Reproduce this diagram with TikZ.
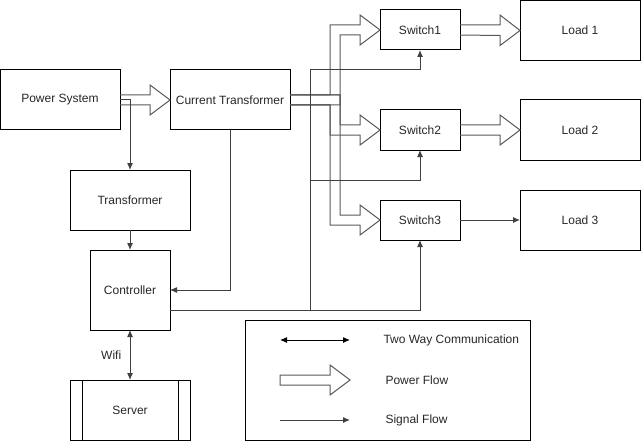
\documentclass[tikz,border=0pt]{standalone}
\usepackage{fontspec}
\setmainfont{Liberation Sans}
\usepackage{tikz}
\usetikzlibrary{calc,arrows.meta}
\tikzstyle{every picture}=[->,>={Latex[length=7pt,width=6pt]},line width=1pt]
\tikzstyle{every node}=[font=\fontsize{12}{14}\selectfont, text=black!85]
\tikzstyle{block}=[draw, rectangle, minimum width=120pt, minimum height=60pt, inner sep=0pt, outer sep=0pt]
\tikzstyle{swbox}=[block, minimum width=80pt, minimum height=40pt]
\tikzstyle{pflow}=[-, draw=black!65, line join=miter]
\tikzstyle{sig}=[->, draw=black!75]

\begin{document}
\begin{tikzpicture}[x=1pt,y=-1pt]
\useasboundingbox (0,0) rectangle (642,441);
 % blocks
 \node[block] (ps) at (60,100) {Power System};
 \node[block] (ct) at (230,100) {Current Transformer};
 \node[block] (tr) at (130,200) {Transformer};
 \node[block, minimum width=80pt, minimum height=80pt] (ctrl) at (130,290) {Controller};
 \node[block] (srv) at (130,410) {Server};
 \draw[-] ($(srv.north west)+(12,0)$) -- ($(srv.south west)+(12,0)$);
 \draw[-] ($(srv.north east)+(-12,0)$) -- ($(srv.south east)+(-12,0)$);
 \node[swbox] (sw1) at (420,30) {Switch1};
 \node[swbox] (sw2) at (420,130) {Switch2};
 \node[swbox] (sw3) at (420,220) {Switch3};
 \node[block] (ld1) at (580,30.5) {Load 1};
 \node[block] (ld2) at (580,130) {Load 2};
 \node[block] (ld3) at (580,220) {Load 3};

 % power flow (hollow arrows)
 \draw[pflow] ($(ps.east)+(0,-5)$) -- ++(30,0) -- ++(0,-10) -- (ct.west) -- ++(-20,15) -- ++(0,-10) -- ($(ps.east)+(0,5)$);
 \draw[pflow] ($(ct.east)+(0,-5)$) -| ($(sw1.west)+(-50,-5)$) -- ++(30,0) -- ++(0,-10) -- (sw1.west) -- ++(-20,15) -- ++(0,-10) -| ($(ct.east)+(50,5)$) -- ($(ct.east)+(0,5)$);
 \draw[pflow] ($(ct.east)+(0,-5)$) -| ($(sw2.west)+(-40,-5)$) -- ++(20,0) -- ++(0,-10) -- (sw2.west) -- ++(-20,15) -- ++(0,-10) -| ($(ct.east)+(40,5)$) -- ($(ct.east)+(0,5)$);
 \draw[pflow] ($(ct.east)+(0,-5)$) -| ($(sw3.west)+(-40,-5)$) -- ++(20,0) -- ++(0,-10) -- (sw3.west) -- ++(-20,15) -- ++(0,-10) -| ($(ct.east)+(40,5)$) -- ($(ct.east)+(0,5)$);
 \draw[pflow] ($(sw1.east)+(0,-5)$) -- ++(40,0) -- ++(0,-10) -- (ld1.west) -- ++(-20,15) -- ++(0,-10) -- ($(sw1.east)+(0,5)$);
 \draw[pflow] ($(sw2.east)+(0,-5)$) -- ++(40,0) -- ++(0,-10) -- (ld2.west) -- ++(-20,15) -- ++(0,-10) -- ($(sw2.east)+(0,5)$);

 % signals
 \draw[sig] (ps.east) -| (tr.north);
 \draw[sig] (tr.south) -- (ctrl.north);
 \draw[sig] (ct.south) |- (ctrl.east);
 \draw[sig] ($(ctrl.east)+(0,20)$) -| (sw3.south);
 \draw[sig] ($(ctrl.east)+(0,20)$) -- ++(140,0) |- ($(sw2.south)+(0,30)$) -- (sw2.south);
 \draw[sig] ($(ctrl.east)+(0,20)$) -- ++(140,0) |- ($(sw1.south)+(0,20)$) -- (sw1.south);
 \draw[sig] (sw3.east) -- (ld3.west);
 \draw[<->, draw=black!75] (ctrl.south) -- node[left=5pt] (wifi) {Wifi} (srv.north);

 % legend
 \node[draw, minimum width=285pt, minimum height=120pt, outer sep=0pt] (legend) at (387.5,380) {};
 \coordinate (tw1) at (280,340);
 \coordinate (tw2) at (350,340);
 \draw[<->] (tw1) -- (tw2);
 \node[anchor=west, inner sep=0pt] (twtxt) at (383,340) {Two Way Communication};
 \coordinate (pf1) at (280,380);
 \coordinate (pf2) at (350,380);
 \draw[pflow] ($(pf1)+(0,-5)$) -- ($(pf2)+(-20,-5)$) -- ++(0,-10) -- (pf2) -- ++(-20,15) -- ++(0,-10) -- ($(pf1)+(0,5)$) -- cycle;
 \node[anchor=west, inner sep=0pt] (pftxt) at (385,380) {Power Flow};
 \coordinate (sf1) at (280,420);
 \coordinate (sf2) at (350,420);
 \draw[sig] (sf1) -- (sf2);
 \node[anchor=west, inner sep=0pt] (sftxt) at (385,420) {Signal Flow};
\end{tikzpicture}
\end{document}
